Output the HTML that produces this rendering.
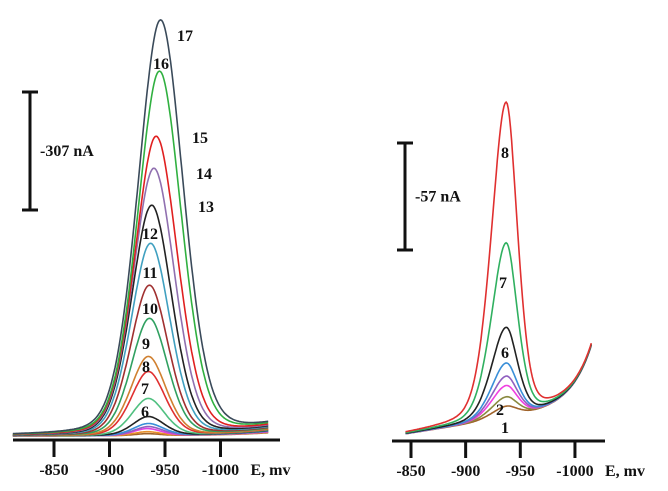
<!DOCTYPE html>
<html><head><meta charset="utf-8"><style>
html,body{margin:0;padding:0;background:#fff;}
svg{display:block;font-family:"Liberation Serif",serif;font-weight:bold;}
</style></head><body>
<svg id="chart" width="668" height="491" viewBox="0 0 668 491">
<g id="left"></g>
<g id="right"></g>
</svg>
<script>
// ---- data ----
const leftLabels = ["1","2","3","4","5","6","7","8","9","10","11","12","13","14","15","16","17"];
const leftPeaksNA = [5,10,18,23,31,49,96,166,205,304,390,499,598,694,777,946,1079];
const leftPeakE = [-934,-934,-934,-935,-935,-935,-935,-935,-935,-936,-936,-937,-938,-940,-942,-945,-946];
const leftColors = ["#a0632a","#e8902a","#e040e0","#9060c0","#3a8fd8","#222222","#50c080","#e03030","#d08030","#30a060","#a03030","#40a0c0","#222222","#9070b0","#e02020","#30b040","#3a4a5a"];
const rightLabels = ["1","2","3","4","5","6","7","8"];
const rightPeaksNA = [6,11,17,22,29,48,93,168];
const rightColors = ["#a0632a","#8a8a40","#f040e0","#9060c0","#3a8fd8","#222222","#30b060","#e03030"];
const xTicks = [-850,-900,-950,-1000];
const leftScaleNA = 307, rightScaleNA = 57;

const NS="http://www.w3.org/2000/svg";
function mk(tag,attrs,parent){const e=document.createElementNS(NS,tag);for(const k in attrs)e.setAttribute(k,attrs[k]);parent.appendChild(e);return e;}

function drawPanel(g,cfg){
  const xOf=E=>cfg.x0+(-E-850)*cfg.kx;
  const yOf=v=>cfg.base-v*cfg.ky;
  const ax=mk("line",{x1:cfg.ax1,x2:cfg.ax2,y1:cfg.axisY,y2:cfg.axisY,stroke:"#111","stroke-width":3},g);
  
  
  xTicks.forEach((t,i)=>{
    const tk=mk("line",{x1:xOf(t),x2:xOf(t),y1:cfg.axisY,y2:cfg.axisY+17,stroke:"#111","stroke-width":3},g);
    
    
    const tl=mk("text",{x:xOf(t),y:cfg.axisY+35,"text-anchor":"middle","font-size":16,fill:"#111"},g);
    tl.textContent=String(t);
    
    
  });
  const at=mk("text",{x:xOf(-1000)+30,y:cfg.axisY+35,"font-size":16,fill:"#111"},g);
  at.textContent="E, mv";
  
  
  const sb=mk("path",{d:`M${cfg.sbx-8},${cfg.sbTop}H${cfg.sbx+8}M${cfg.sbx},${cfg.sbTop}V${cfg.sbTop+cfg.scaleNA*cfg.ky}M${cfg.sbx-8},${cfg.sbTop+cfg.scaleNA*cfg.ky}H${cfg.sbx+8}`,stroke:"#111","stroke-width":3,fill:"none"},g);
  
  
  const st=mk("text",{x:cfg.sbx+10,y:cfg.sbTop+cfg.scaleNA*cfg.ky/2+5,"font-size":16,fill:"#111"},g);
  st.textContent="-"+cfg.scaleNA+" nA";
  
  
  cfg.peaks.forEach((h,i)=>{
    let d="";
    const pe=cfg.peakE[i], sig=cfg.sig(i);
    for(let p=cfg.pStart;p<=cfg.pEnd;p+=1){
      let z=(p+pe)/sig;
      if(z>0) z*=cfg.skewR;
      const shape=(1-cfg.eta)*Math.exp(-0.5*z*z)+cfg.eta/(1+z*z);
      const v=h*shape+cfg.bl(p,i);
      d+=(d?"L":"M")+xOf(-p).toFixed(1)+","+yOf(v).toFixed(1);
    }
    const c=mk("path",{d:d,stroke:cfg.colors[i],"stroke-width":1.6,fill:"none"},g);
    
    
  });
  cfg.lab.forEach(([idx,x,y])=>{
    const t=mk("text",{x:x,y:y,"text-anchor":"middle","font-size":16,fill:"#111"},g);
    t.textContent=cfg.labels[idx];
    
    
  });
}

drawPanel(document.getElementById("left"),{
  x0:54,kx:1.11,base:437,ky:118/307,axisY:440,ax1:13,ax2:280,
  sbx:30,sbTop:92,scaleNA:leftScaleNA,
  peaks:leftPeaksNA,peakE:leftPeakE,colors:leftColors,labels:leftLabels,
  sig:i=>11.5+0.6*i,skewR:1.0,eta:0.22,pStart:813,pEnd:1043,
  bl:(p,i)=>3+(8+1.2*i)*Math.exp((p-1043)/45),
  lab:[[16,185,41],[15,161,69],[14,200,143],[13,204,179],[12,206,212],[11,150,239],[10,150,278],[9,150,314],[8,146,349],[7,146,372],[6,145,394],[5,145,417]]
});
drawPanel(document.getElementById("right"),{
  x0:411,kx:1.093,base:436,ky:107/57,axisY:441,ax1:392,ax2:605,
  sbx:405,sbTop:143,scaleNA:rightScaleNA,
  peaks:rightPeaksNA,peakE:rightPeaksNA.map(()=>-937),colors:rightColors,labels:rightLabels,
  sig:i=>14,skewR:1.3,eta:0.3,pStart:845,pEnd:1015,
  bl:(p,i)=>(3+0.17*(p-850)+60*Math.exp((p-1015)/18))/(107/57),
  lab:[[7,505,158],[6,503,288],[5,505,358],[1,500,415],[0,505,433]]
});
</script>
</body></html>
